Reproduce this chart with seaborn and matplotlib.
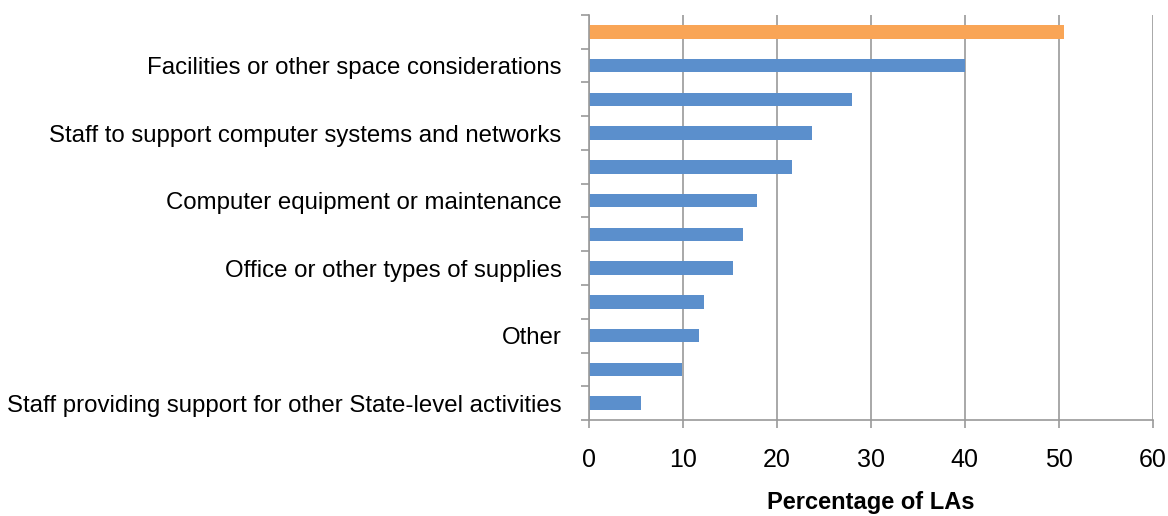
import matplotlib
matplotlib.use("Agg")
import matplotlib.pyplot as plt
from matplotlib.ticker import FixedLocator, NullFormatter
import seaborn as sns
import pandas as pd

# Reasons, ordered from most to least often cited; only every other one is labelled
rank = ["1", "2", "3", "4", "5", "6", "7", "8", "9", "10", "11", "12"]
tick_labels = [
    "",
    "Facilities or other space considerations",
    "",
    "Staff to support computer systems and networks",
    "",
    "Computer equipment or maintenance",
    "",
    "Office or other types of supplies",
    "",
    "Other",
    "",
    "Staff providing support for other State-level activities",
]
percent = [50.6, 40.0, 28.0, 23.8, 21.6, 17.9, 16.4, 15.4, 12.3, 11.7, 9.9, 5.6]
highlight = ["yes"] + ["no"] * 11

x_ticks = [0, 10, 20, 30, 40, 50, 60]
x_label = "Percentage of LAs"

sns.set_theme(style="white")
plt.rcParams["font.family"] = ["Liberation Sans", "DejaVu Sans"]
plt.rcParams["text.color"] = "black"
plt.rcParams["xtick.labelcolor"] = "black"
plt.rcParams["ytick.labelcolor"] = "black"
plt.rcParams["axes.labelcolor"] = "black"

df = pd.DataFrame({"rank": rank, "percent": percent, "highlight": highlight})

fig = plt.figure(figsize=(11.68, 5.16), dpi=100)
ax = fig.add_axes([0.504, 0.186, 0.483, 0.785])

sns.barplot(
    data=df, x="percent", y="rank", hue="highlight",
    palette={"yes": "#F9A556", "no": "#5B8FCC"}, saturation=1,
    order=rank, width=0.4, dodge=False, legend=False, ax=ax,
    linewidth=0,
)

grid_color = "#9A9A9A"
ax.set_xlim(0, 60)
ax.set_ylim(len(rank) - 0.5, -0.5)
ax.set_xticks(x_ticks)
ax.set_xticklabels([str(t) for t in x_ticks], fontsize=18)
ax.xaxis.grid(True, color=grid_color, linewidth=1.2)
ax.set_axisbelow(True)

# Category ticks sit between bars; labels sit at bar centres
ax.yaxis.set_major_locator(FixedLocator([i - 0.5 for i in range(len(rank) + 1)]))
ax.yaxis.set_major_formatter(NullFormatter())
ax.yaxis.set_minor_locator(FixedLocator(list(range(len(rank)))))
ax.set_yticklabels(tick_labels, minor=True, fontsize=17.3)
ax.tick_params(axis="y", which="major", length=6, width=1.2, color=grid_color, left=True)
ax.tick_params(axis="y", which="minor", length=0, pad=19.5, left=True)
ax.tick_params(axis="x", which="major", length=6, width=1.2, color=grid_color, bottom=True, pad=14)

for side in ("top", "right"):
    ax.spines[side].set_visible(False)
for side in ("left", "bottom"):
    ax.spines[side].set_color(grid_color)
    ax.spines[side].set_linewidth(1.2)

ax.set_ylabel("")
ax.set_xlabel(x_label, fontsize=17, fontweight="bold", labelpad=14)

fig.savefig("out.png", dpi=100)
